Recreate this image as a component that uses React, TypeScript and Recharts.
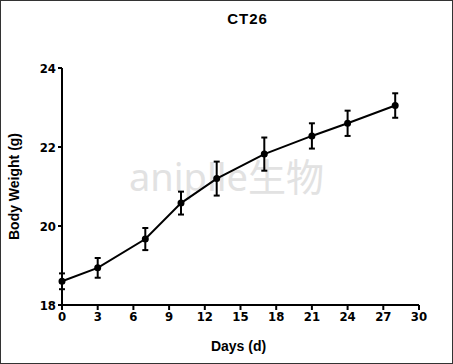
import { LineChart, Line, XAxis, YAxis, ErrorBar, Label } from 'recharts';

const days = [0, 3, 7, 10, 13, 17, 21, 24, 28];
const weight = [18.6, 18.94, 19.67, 20.58, 21.2, 21.82, 22.28, 22.6, 23.05];
const sem = [0.2, 0.25, 0.28, 0.29, 0.43, 0.42, 0.32, 0.32, 0.31];
const xTicks = [0, 3, 6, 9, 12, 15, 18, 21, 24, 27, 30];
const yTicks = [18, 20, 22, 24];

const data = days.map((d, i) => ({ day: d, weight: weight[i], err: sem[i] }));

const font = 'Arial, "Liberation Sans", sans-serif';
const narrow = '"Liberation Sans Narrow", "Arial Narrow", "DejaVu Sans Condensed", Arial, sans-serif';

export default function App() {
  return (
    <div
      style={{
        position: 'absolute',
        left: 0,
        top: 0,
        width: 453,
        height: 364,
        background: '#fff',
        boxSizing: 'border-box',
        border: '1px solid #333',
        fontFamily: font,
      }}
    >
      <div
        style={{
          position: 'absolute',
          left: 0,
          width: 453,
          top: 9,
          textAlign: 'center',
          paddingLeft: 40,
          boxSizing: 'border-box',
          fontWeight: 'bold',
          fontSize: 15,
          letterSpacing: 1,
        }}
      >
        CT26
      </div>
      <div
        style={{
          position: 'absolute',
          left: 128,
          top: 152,
          fontSize: 38,
          color: '#e2e2e2',
          fontFamily: '"Noto Sans", "Noto Sans CJK SC", sans-serif',
          whiteSpace: 'nowrap',
          lineHeight: '46px',
        }}
      >
        aniplle生物
      </div>
      <div style={{ position: 'absolute', left: -1, top: -1 }}>
        <LineChart
          width={453}
          height={364}
          data={data}
          margin={{ top: 68, right: 34, bottom: 0, left: 0 }}
        >
          <XAxis
            dataKey="day"
            type="number"
            domain={[0, 30]}
            ticks={xTicks}
            interval={0}
            stroke="#000"
            strokeWidth={2}
            tickSize={5}
            height={59}
            tick={{ fill: '#000', fontSize: 13, fontWeight: 'bold', fontFamily: narrow }}
          >
            <Label
              value="Days (d)"
              position="insideBottom"
              offset={13}
              dx={-2}
              style={{ fill: '#000', fontSize: 14, fontWeight: 'bold', fontFamily: font }}
            />
          </XAxis>
          <YAxis
            type="number"
            domain={[18, 24]}
            ticks={yTicks}
            interval={0}
            width={62}
            stroke="#000"
            strokeWidth={2}
            tickSize={4}
            tick={{ fill: '#000', fontSize: 13, fontWeight: 'bold', fontFamily: narrow }}
          >
            <Label
              value="Body Weight (g)"
              angle={-90}
              position="insideLeft"
              offset={14}
              style={{ textAnchor: 'middle', fill: '#000', fontSize: 14, fontWeight: 'bold', fontFamily: font }}
            />
          </YAxis>
          <Line
            dataKey="weight"
            stroke="#000"
            strokeWidth={2}
            dot={{ r: 2.5, fill: '#000', stroke: '#000' }}
            isAnimationActive={false}
          >
            <ErrorBar dataKey="err" direction="y" width={3} stroke="#000" strokeWidth={2} />
          </Line>
        </LineChart>
      </div>
    </div>
  );
}
